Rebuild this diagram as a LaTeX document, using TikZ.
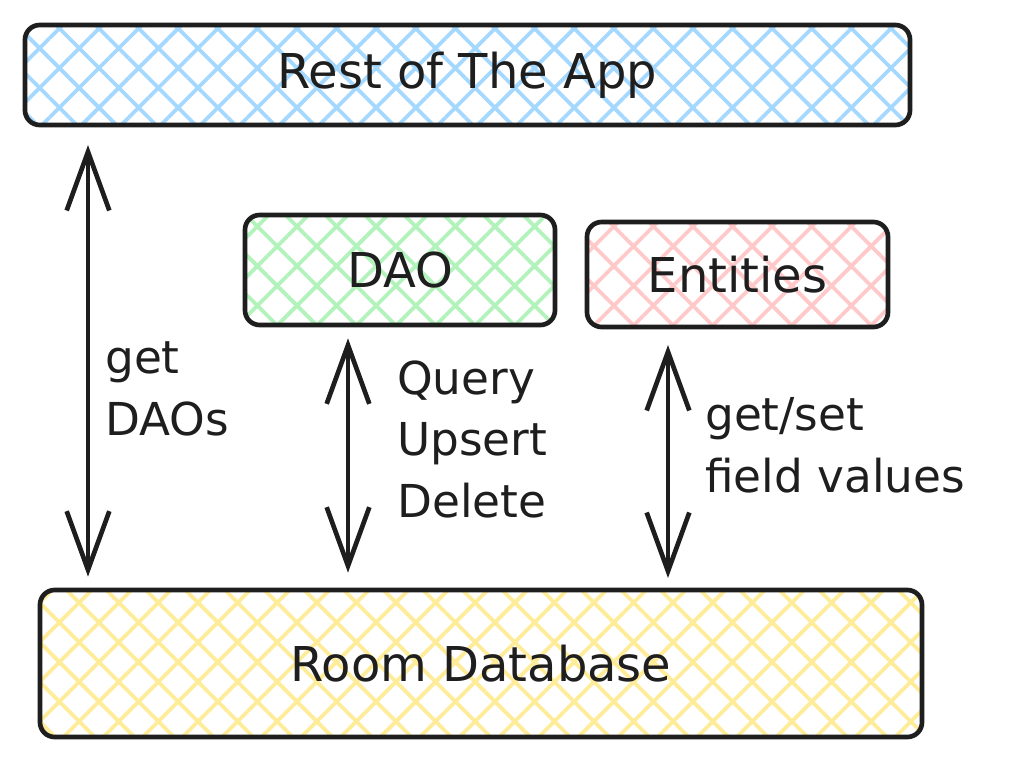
\documentclass[tikz,border=0pt]{standalone}
\usepackage{fontspec}
\setmainfont{DejaVu Sans}
\usepackage{tikz}
\usetikzlibrary{patterns,patterns.meta}
\usetikzlibrary{arrows.meta}
\definecolor{ink}{HTML}{1E1E1E}
\definecolor{appblue}{HTML}{A5D8FF}
\definecolor{daogreen}{HTML}{B2F2BB}
\definecolor{entitypink}{HTML}{FFC9C9}
\definecolor{roomyellow}{HTML}{FFEC99}
\newcommand{\layerfont}{\fontsize{36}{44}\selectfont}
\newcommand{\notefont}{\fontsize{34}{46}\selectfont}
\tikzstyle{layer}=[draw=ink, line width=3.5pt, rounded corners=11pt, inner sep=0, outer sep=0, font=\layerfont, text=ink,
                   pattern={Hatch[angle=45, distance=21pt, line width=2.8pt]}]
\tikzstyle{applayer}=[layer, pattern color=appblue]
\tikzstyle{daolayer}=[layer, pattern color=daogreen]
\tikzstyle{entitylayer}=[layer, pattern color=entitypink]
\tikzstyle{roomlayer}=[layer, pattern color=roomyellow]
\tikzstyle{link}=[draw=ink, line width=3.5pt, line cap=round, line join=round,
                  {Straight Barb[length=44pt, width=32pt]}-{Straight Barb[length=44pt, width=32pt]}]
\tikzstyle{note}=[inner sep=0, align=left, anchor=base west, font=\notefont, text=ink]
\tikzstyle{roomdiagram}=[x=0.75pt, y=-0.75pt,
                         % Fix the page to the reference size.
                         execute at begin picture={\fill[white] (0,0) rectangle (1013,761);}]

\begin{document}
\begin{tikzpicture}[roomdiagram]
    \node[applayer, minimum width=663.75pt, minimum height=75pt] (app) at (467.5, 75) {Rest of The App};
    \node[daolayer, minimum width=232.5pt, minimum height=82.5pt] (dao) at (400, 270) {DAO};
    \node[entitylayer, minimum width=225.75pt, minimum height=78.75pt] (entities) at (737.5, 274.5) {Entities};
    \node[roomlayer, minimum width=661.5pt, minimum height=110.25pt] (room) at (481, 663.5) {Room Database};

    \coordinate (lx) at (88, 0);
    \coordinate (mx) at (348, 0);
    \coordinate (rx) at (668, 0);
    \draw[link, shorten <=15pt, shorten >=10pt] (app.south -| lx) -- (room.north -| lx);
    \draw[link, shorten <=10pt, shorten >=13pt] (dao.south -| mx) -- (room.north -| mx);
    \draw[link, shorten <=13.5pt, shorten >=9pt] (entities.south -| rx) -- (room.north -| rx);

    % base west is the last line here
    \node[note] (getdaos) at (105, 435) {get\\DAOs};
    \node[note] (ops) at (397, 517) {Query\\Upsert\\Delete};
    \node[note] (fields) at (705, 492) {get/set\\field values};
\end{tikzpicture}
\end{document}
